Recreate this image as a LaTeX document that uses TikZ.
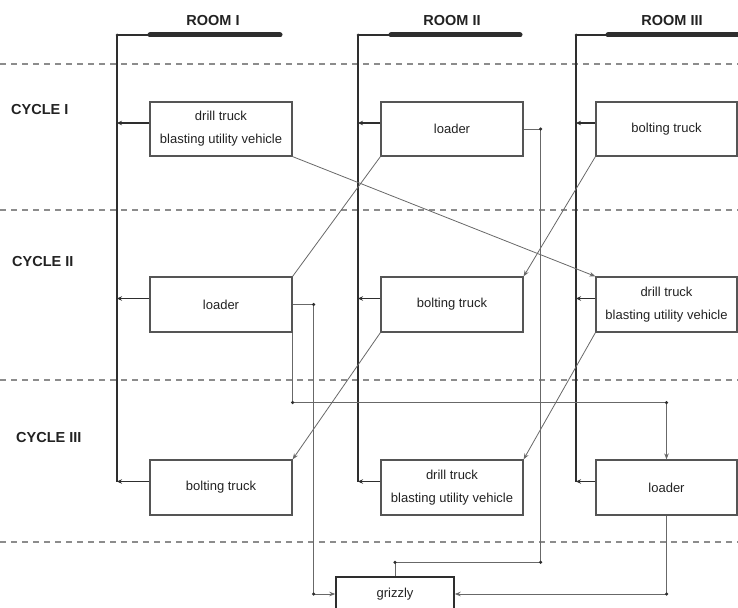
\documentclass[tikz,border=0pt]{standalone}
\usepackage{fontspec}
\setmainfont{Liberation Sans}
\usetikzlibrary{arrows.meta}
\definecolor{inkdark}{HTML}{2E2E2E}
\definecolor{boxgray}{HTML}{555555}
\definecolor{linegray}{HTML}{686868}
\definecolor{dashgray}{HTML}{8C8C8C}
\definecolor{textdark}{HTML}{222222}
\begin{document}
\begin{tikzpicture}[x=1pt,y=-1pt,
  box/.style={draw=boxgray,line width=1.2pt,minimum width=142pt,minimum height=55pt,
    inner sep=0pt,align=center,text=textdark,font=\fontsize{13}{23}\selectfont},
  lbl/.style={inner sep=0pt,text=textdark,font=\bfseries\fontsize{14.5}{16}\selectfont},
  bus/.style={draw=inkdark,line width=1.6pt},
  bar/.style={draw=inkdark,line width=5pt,line cap=round},
  feed/.style={draw=inkdark,line width=1.7pt,-{Stealth[length=5pt,width=4.5pt]}},
  diag/.style={draw=linegray,line width=0.8pt},
  diagarrow/.style={diag,-{Stealth[length=6pt,width=4.5pt]}},
  flow/.style={draw=linegray,line width=1pt},
  flowarrow/.style={flow,-{Stealth[length=6pt,width=4.5pt]}},
  sep/.style={draw=dashgray,line width=1.2pt,dash pattern=on 6pt off 5pt},
  joint/.style={circle,fill=inkdark,inner sep=0pt,minimum size=3.5pt}
]
\useasboundingbox (0,0) rectangle (738,607);
\clip (0,0) rectangle (738,607);

% separators
\draw[sep] (0,64) -- (738,64);
\draw[sep] (0,210) -- (738,210);
\draw[sep] (0,380) -- (738,380);
\draw[sep] (0,542) -- (738,542);

% headings
\node[lbl] (room1) at (213,21) {ROOM I};
\node[lbl] (room2) at (452,21) {ROOM II};
\node[lbl] (room3) at (672,21) {ROOM III};
\node[lbl,anchor=west] (cyc1) at (11,110) {CYCLE I};
\node[lbl,anchor=west] (cyc2) at (12,262) {CYCLE II};
\node[lbl,anchor=west] (cyc3) at (16,438) {CYCLE III};

% room bars
\coordinate (b1top) at (117,35);
\coordinate (b2top) at (358,35);
\coordinate (b3top) at (576,35);
\coordinate (bar1s) at (150,35);
\coordinate (bar1e) at (280,35);
\coordinate (bar2s) at (391,35);
\coordinate (bar2e) at (520,35);
\coordinate (bar3s) at (608,35);
\coordinate (bar3e) at (745,35);
\draw[bar] (bar1s) -- (bar1e);
\draw[bar] (bar2s) -- (bar2e);
\draw[bar] (bar3s) -- (bar3e);
\draw[bus] (b1top) -- (bar1s);
\draw[bus] (b2top) -- (bar2s);
\draw[bus] (b3top) -- (bar3s);

% boxes
\node[box,minimum height=54pt] (r1c1) at (221,129) {drill truck\\blasting utility vehicle};
\node[box,minimum height=54pt] (r2c1) at (452,129) {loader};
\node[box,minimum height=54pt,minimum width=141pt] (r3c1) at (666.5,129) {bolting truck};
\node[box] (r1c2) at (221,304.5) {loader};
\node[box] (r2c2) at (452,304.5) {bolting truck};
\node[box,minimum width=141pt] (r3c2) at (666.5,304.5) {drill truck\\blasting utility vehicle};
\node[box] (r1c3) at (221,487.5) {bolting truck};
\node[box] (r2c3) at (452,487.5) {drill truck\\blasting utility vehicle};
\node[box,minimum width=141pt] (r3c3) at (666.5,487.5) {loader};
\node[box,draw=inkdark,line width=1.4pt,minimum width=118pt,minimum height=34pt] (griz) at (395,594) {grizzly};

% buses
\coordinate (b1bot) at ([yshift=6pt]r1c3.west -| b1top);
\coordinate (b2bot) at ([yshift=6pt]r2c3.west -| b2top);
\coordinate (b3bot) at ([yshift=6pt]r3c3.west -| b3top);
\draw[bus] (b1top) -- (b1bot);
\draw[bus] (b2top) -- (b2bot);
\draw[bus] (b3top) -- (b3bot);
\node[joint,minimum size=3pt] (j1) at (b1top) {};
\node[joint,minimum size=3pt] (j2) at (b2top) {};
\node[joint,minimum size=3pt] (j3) at (b3top) {};

% feeders into buses
\foreach \r/\b in {r1c1/b1top,r1c2/b1top,r1c3/b1top,r2c1/b2top,r2c2/b2top,r2c3/b2top,r3c1/b3top,r3c2/b3top,r3c3/b3top}
  \draw[feed] ([yshift=6pt]\r.west) -- ([yshift=6pt]\r.west -| \b);

% diagonal moves
\draw[diagarrow] (r1c1.south east) -- (r3c2.north west);
\draw[diag] (r2c1.south west) -- (r1c2.north east);
\draw[diagarrow] (r3c1.south west) -- (r2c2.north east);
\draw[diagarrow] (r2c2.south west) -- (r1c3.north east);
\draw[diagarrow] (r3c2.south west) -- (r2c3.north east);

% loader flows
\draw[flowarrow] (r1c2.east) -- ++(21,0) coordinate (k1) |- (griz.west) coordinate[pos=0.5] (k2);
\node[joint] at (k1) {};
\node[joint] at (k2) {};

\draw[flowarrow] (r1c2.south east) -- ++(0,70) coordinate (k3) -| (r3c3.north) coordinate[pos=0.5] (k4);
\node[joint] at (k3) {};
\node[joint] at (k4) {};

\draw[flow] (r2c1.east) -- ++(17,0) coordinate (k5) |- ([yshift=14pt]griz.north) coordinate[pos=0.5] (k6) -- (griz.north);
\node[joint] at (k5) {};
\node[joint] at (k6) {};
\node[joint] at ([yshift=14pt]griz.north) {};

\draw[flowarrow] (r3c3.south) |- (griz.east) coordinate[pos=0.5] (k7);
\node[joint] at (k7) {};

\end{tikzpicture}
\end{document}
